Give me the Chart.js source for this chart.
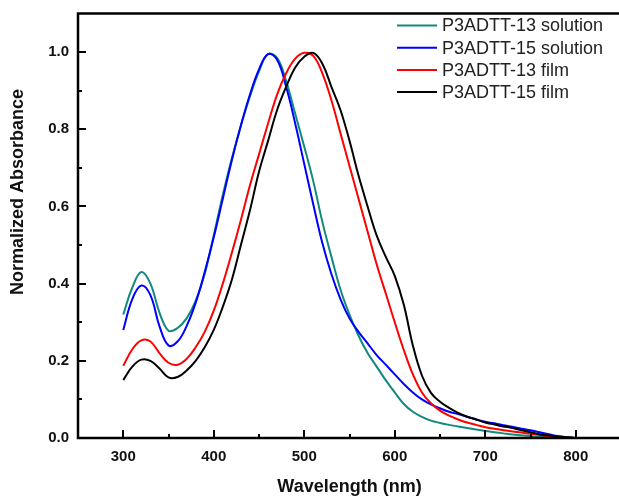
<!DOCTYPE html>
<html>
<head>
<meta charset="utf-8">
<script src="https://cdn.jsdelivr.net/npm/chart.js@4.4.0/dist/chart.umd.min.js"></script>
<style>
  html, body { margin: 0; padding: 0; background: #fff; overflow: hidden; }
  #wrap { width: 625px; height: 496px; }
</style>
</head>
<body>
<div id="wrap"><canvas id="absChart" width="625" height="496"></canvas></div>
<script>
// wavelength grid (nm)
const wavelengths = [
  300, 310, 320, 330, 340, 350, 360, 370, 380, 390,
  400, 410, 420, 430, 440, 450, 460, 470, 480, 490,
  500, 510, 520, 530, 540, 550, 560, 570, 580, 590,
  600, 610, 620, 630, 640, 650, 660, 670, 680, 690,
  700, 710, 720, 730, 740, 750, 760, 770, 780, 790, 800
];

const seriesNames = ['P3ADTT-13 solution', 'P3ADTT-15 solution', 'P3ADTT-13 film', 'P3ADTT-15 film'];
const seriesColors = ['#12897f', '#0000ff', '#ff0000', '#000000'];

const p13Solution = [
  0.32, 0.39, 0.43, 0.40, 0.325, 0.278, 0.285, 0.31, 0.355, 0.425,
  0.525, 0.63, 0.725, 0.81, 0.885, 0.95, 0.995, 0.985, 0.925, 0.84,
  0.755, 0.665, 0.56, 0.47, 0.385, 0.32, 0.265, 0.22, 0.185, 0.15,
  0.118, 0.088, 0.068, 0.055, 0.045, 0.039, 0.034, 0.03, 0.026, 0.022,
  0.018, 0.015, 0.012, 0.009, 0.007, 0.005, 0.003, 0.002, 0.001, 0.0, 0.0
];
const p15Solution = [
  0.28, 0.36, 0.395, 0.37, 0.29, 0.24, 0.25, 0.29, 0.35, 0.43,
  0.52, 0.62, 0.72, 0.81, 0.89, 0.955, 0.995, 0.98, 0.91, 0.815,
  0.71, 0.605, 0.505, 0.425, 0.36, 0.31, 0.275, 0.245, 0.215, 0.19,
  0.165, 0.14, 0.118, 0.10, 0.087, 0.077, 0.068, 0.062, 0.055, 0.048,
  0.042, 0.038, 0.033, 0.029, 0.024, 0.02, 0.015, 0.01, 0.005, 0.002, 0.0
];
const p13Film = [
  0.187, 0.23, 0.253, 0.25, 0.22, 0.195, 0.19, 0.205, 0.235, 0.275,
  0.33, 0.40, 0.48, 0.565, 0.655, 0.735, 0.815, 0.89, 0.945, 0.983,
  0.998, 0.99, 0.945, 0.875, 0.79, 0.705, 0.62, 0.535, 0.45, 0.375,
  0.30, 0.228, 0.165, 0.118, 0.09, 0.071, 0.058, 0.048, 0.04, 0.034,
  0.028, 0.024, 0.02, 0.017, 0.014, 0.011, 0.008, 0.005, 0.003, 0.001, 0.0
];
const p15Film = [
  0.15, 0.185, 0.203, 0.20, 0.18, 0.157, 0.158, 0.175, 0.20, 0.235,
  0.28, 0.34, 0.41, 0.50, 0.59, 0.69, 0.77, 0.85, 0.91, 0.96,
  0.988, 0.998, 0.97, 0.91, 0.85, 0.77, 0.68, 0.60, 0.525, 0.47,
  0.42, 0.345, 0.24, 0.162, 0.117, 0.094, 0.078, 0.065, 0.055, 0.048,
  0.04, 0.035, 0.03, 0.026, 0.02, 0.015, 0.01, 0.007, 0.004, 0.002, 0.0
];

const xTicks = [300, 400, 500, 600, 700, 800];
const yTicks = [0.0, 0.2, 0.4, 0.6, 0.8, 1.0];

const FONT = "'Liberation Sans', Arial, Helvetica, sans-serif";

// minor ticks halfway between the majors
const midpoints = arr => arr.slice(1).map((v, i) => (v + arr[i]) / 2);
const xMinor = [xTicks[0] - 50].concat(midpoints(xTicks));
const yMinor = midpoints(yTicks);

// box frame, inward ticks, y title and the legend
const framePlugin = {
  id: 'frame',
  afterDraw(chart) {
    const { ctx, chartArea: a, scales } = chart;
    const xs = scales.x, ys = scales.y;
    ctx.save();
    ctx.strokeStyle = '#000';
    ctx.lineWidth = 2.5;
    ctx.strokeRect(a.left, a.top, a.right - a.left, a.bottom - a.top);

    ctx.lineWidth = 2;
    ctx.beginPath();
    xTicks.forEach(v => {
      const px = Math.round(xs.getPixelForValue(v));
      ctx.moveTo(px, a.bottom); ctx.lineTo(px, a.bottom - 8);
    });
    xMinor.forEach(v => {
      const px = Math.round(xs.getPixelForValue(v));
      ctx.moveTo(px, a.bottom); ctx.lineTo(px, a.bottom - 4);
    });
    yTicks.forEach(v => {
      const py = Math.round(ys.getPixelForValue(v));
      ctx.moveTo(a.left, py); ctx.lineTo(a.left + 8, py);
    });
    yMinor.forEach(v => {
      const py = Math.round(ys.getPixelForValue(v));
      ctx.moveTo(a.left, py); ctx.lineTo(a.left + 4, py);
    });
    ctx.stroke();

    // y axis title (sits a bit above the middle in the original)
    ctx.save();
    ctx.translate(18, 192);
    ctx.rotate(-Math.PI / 2);
    ctx.font = 'bold 18px ' + FONT;
    ctx.fillStyle = '#111';
    ctx.textAlign = 'center';
    ctx.textBaseline = 'middle';
    ctx.fillText('Normalized Absorbance', 0, 0);
    ctx.restore();

    // legend
    ctx.font = '18px ' + FONT;
    ctx.textBaseline = 'middle';
    ctx.fillStyle = '#222';
    const x0 = a.left + 319;
    seriesNames.forEach((name, i) => {
      const y = a.top + 12 + i * 22.2;
      ctx.strokeStyle = seriesColors[i];
      ctx.lineWidth = 2;
      ctx.beginPath();
      ctx.moveTo(x0, y); ctx.lineTo(x0 + 40, y);
      ctx.stroke();
      ctx.fillText(name, x0 + 45, y + 1);
    });
    ctx.restore();
  }
};

const seriesValues = [p13Solution, p15Solution, p13Film, p15Film];
const datasets = seriesValues.map((vals, i) => ({
  label: seriesNames[i],
  data: vals.map((v, j) => ({ x: wavelengths[j], y: v })),
  borderColor: seriesColors[i],
  borderWidth: 2,
  pointRadius: 0,
  fill: false,
  tension: 0.4,
})).reverse();

new Chart(document.getElementById('absChart'), {
  type: 'line',
  data: { datasets: datasets },
  options: {
    responsive: false,
    animation: false,
    layout: { padding: { top: 13.5, right: 4, left: 0, bottom: 0 } },
    plugins: { legend: { display: false }, tooltip: { enabled: false } },
    scales: {
      x: {
        type: 'linear',
        min: 250,
        max: 850,
        grid: { display: false, drawTicks: false },
        border: { display: false },
        afterBuildTicks: s => { s.ticks = xTicks.map(v => ({ value: v })); },
        afterFit: s => { s.height = 58; s.paddingLeft = 0; s.paddingRight = 0; },
        ticks: {
          padding: 10,
          color: '#111',
          font: { family: FONT, size: 15, weight: 'bold' },
          callback: v => String(v),
        },
        title: {
          display: true,
          text: 'Wavelength (nm)',
          color: '#111',
          font: { family: FONT, size: 18, weight: 'bold' },
          padding: { top: 0, bottom: -2 },
        },
      },
      y: {
        min: 0,
        max: 1.1,
        grid: { display: false, drawTicks: false },
        border: { display: false },
        afterBuildTicks: s => { s.ticks = yTicks.map(v => ({ value: v })); },
        afterFit: s => { s.width = 78; s.paddingTop = 0; s.paddingBottom = 0; },
        ticks: {
          padding: 9,
          color: '#111',
          font: { family: FONT, size: 15, weight: 'bold' },
          callback: v => Number(v).toFixed(1),
        },
      },
    },
  },
  plugins: [framePlugin],
});
</script>
</body>
</html>
